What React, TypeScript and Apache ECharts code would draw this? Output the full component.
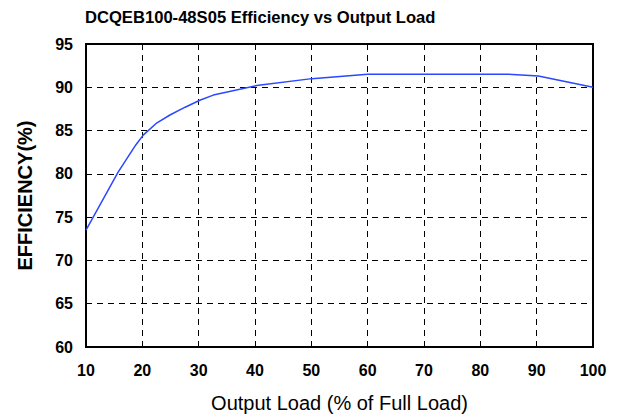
import React, { useEffect, useRef } from "react";
import * as echarts from "echarts";

const loadPct = [10, 15.7, 17.8, 18.9, 20.2, 22.6, 24.9, 27.6, 30.2, 32.6, 40.3, 50.1, 60, 85, 90.3, 100];
const efficiency = [73.5, 80.2, 82.3, 83.4, 84.5, 85.9, 86.8, 87.7, 88.5, 89.1, 90.2, 91.0, 91.5, 91.5, 91.3, 90.0];

const titleText = "DCQEB100-48S05 Efficiency vs Output Load";
const xName = "Output Load (% of Full Load)";
const yName = "EFFICIENCY(%)";

export default function App() {
  const ref = useRef<HTMLDivElement>(null);
  useEffect(() => {
    const chart = echarts.init(ref.current!, null, { renderer: "svg" });
    const font = "Arial, 'Liberation Sans', sans-serif";
    chart.setOption({
      animation: false,
      backgroundColor: "#fff",
      title: {
        text: titleText,
        left: 80,
        top: 4,
        textStyle: { fontFamily: font, fontSize: 16.6, fontWeight: "bold", color: "#000" },
      },
      grid: {
        left: 86,
        right: 30,
        top: 44,
        bottom: 70,
        show: true,
        borderColor: "#000",
        borderWidth: 2,
      },
      xAxis: {
        type: "value",
        min: 10,
        max: 100,
        interval: 10,
        name: xName,
        nameLocation: "middle",
        nameGap: 46,
        nameTextStyle: { fontFamily: font, fontSize: 20, color: "#000" },
        axisLine: { show: true, lineStyle: { color: "#000", width: 2 } },
        axisTick: { show: false },
        axisLabel: { fontFamily: font, fontSize: 16, fontWeight: "bold", color: "#000", margin: 15 },
        splitLine: { show: true, lineStyle: { color: "#000", type: [6, 5], width: 1 } },
      },
      yAxis: {
        type: "value",
        min: 60,
        max: 95,
        interval: 5,
        name: yName,
        nameLocation: "middle",
        nameGap: 51,
        nameRotate: 90,
        nameTextStyle: { fontFamily: font, fontSize: 20, fontWeight: "bold", color: "#000" },
        axisLine: { show: true, lineStyle: { color: "#000", width: 2 } },
        axisTick: { show: false },
        axisLabel: { fontFamily: font, fontSize: 16, fontWeight: "bold", color: "#000", margin: 13 },
        splitLine: { show: true, lineStyle: { color: "#000", type: [6, 5], width: 1 } },
      },
      series: [
        {
          type: "line",
          data: loadPct.map((x, i) => [x, efficiency[i]]),
          showSymbol: false,
          symbol: "none",
          lineStyle: { color: "#2b47ff", width: 1.5 },
        },
      ],
    });
    return () => chart.dispose();
  }, []);
  return <div ref={ref} style={{ width: 623, height: 418, marginLeft: -8, marginTop: -8 }} />;
}
